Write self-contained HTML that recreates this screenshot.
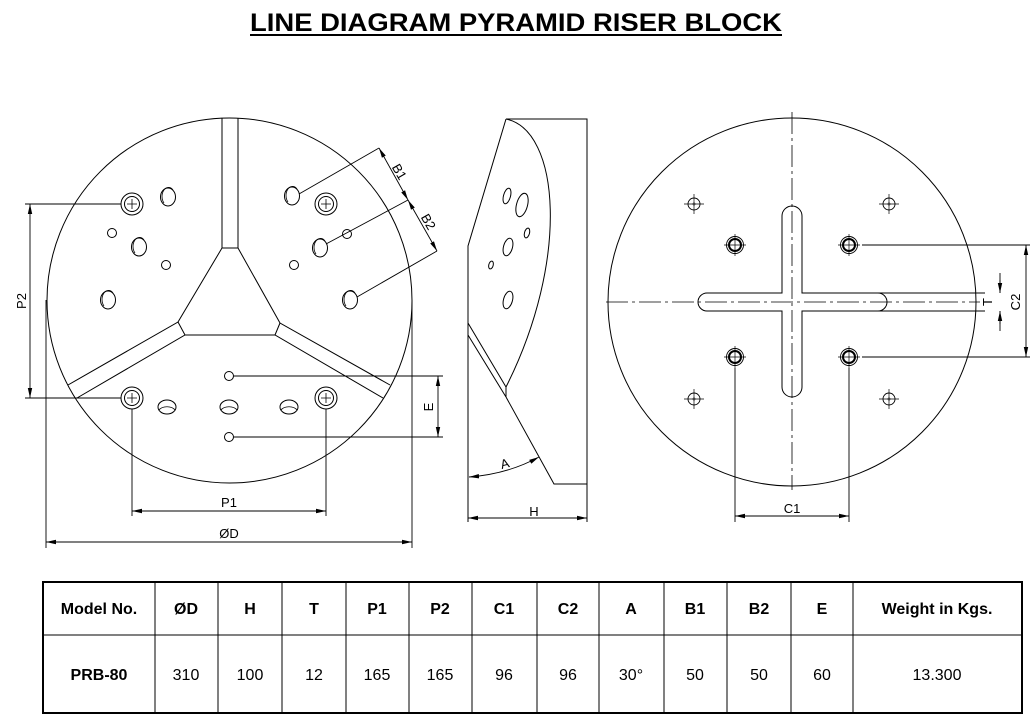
<!DOCTYPE html>
<html><head><meta charset="utf-8"><style>
body{margin:0;background:#fff;width:1033px;height:728px;overflow:hidden;font-family:"Liberation Sans",Arial,sans-serif}
svg{position:absolute;left:0;top:0}
text{font-family:"Liberation Sans",Arial,sans-serif;fill:#000}
</style></head><body>
<svg width="1033" height="728" viewBox="0 0 1033 728">
<defs>
<marker id="ar" viewBox="0 0 10 6" refX="10" refY="3" markerWidth="10" markerHeight="6" orient="auto-start-reverse" markerUnits="userSpaceOnUse"><path d="M0,0.8 L10,3 L0,5.2z" fill="#000"/></marker>
<g id="cb"><circle r="11" fill="none" stroke="#000" stroke-width="1"/><circle r="7.5" fill="none" stroke="#000" stroke-width="1"/><path d="M-5,0H5M0,-5V5" stroke="#000" stroke-width="0.8"/></g>
<g id="eh"><ellipse rx="7.5" ry="9" fill="none" stroke="#000" stroke-width="1"/><path d="M-4,6 A5,7 0 0 1 5,-7" fill="none" stroke="#000" stroke-width="0.8"/></g>
<g id="bh"><ellipse rx="9" ry="7" fill="none" stroke="#000" stroke-width="1"/><path d="M-8,3 A9,6 0 0 1 8,3" fill="none" stroke="#000" stroke-width="0.8"/></g>
<g id="pin"><circle r="6" fill="none" stroke="#000" stroke-width="0.9"/><path d="M-10,0H10M0,-10V10" stroke="#000" stroke-width="0.7"/><path d="M-2,0H2M0,-2V2" stroke="#000" stroke-width="0.9"/></g>
<g id="cb2"><circle r="8.5" fill="none" stroke="#000" stroke-width="0.9"/><circle r="6" fill="none" stroke="#000" stroke-width="2"/><path d="M-11,0H11M0,-11V11" stroke="#000" stroke-width="0.7"/></g>
</defs>

<text x="250" y="31" font-size="25" font-weight="bold" textLength="532" lengthAdjust="spacingAndGlyphs">LINE DIAGRAM PYRAMID RISER BLOCK</text>
<line x1="250" y1="35" x2="782" y2="35" stroke="#000" stroke-width="2"/>

<g fill="none" stroke="#000" stroke-width="1">
<circle cx="229.5" cy="300.5" r="182.5"/>
<path d="M222,118.5V248L178,322L68,385M77,398L185,335H275L383,398M390,385L280,323L238,248V118.5"/>
<path d="M178,322L185,335M275,335L280,323M222,248H238"/>
</g>
<use href="#cb" x="132" y="204"/><use href="#cb" x="132" y="398"/><use href="#cb" x="326" y="398"/><use href="#cb" x="326" y="204"/>
<use href="#eh" x="168" y="197"/><use href="#eh" x="139" y="247"/><use href="#eh" x="108" y="300"/>
<use href="#eh" x="292" y="196"/><use href="#eh" x="320" y="248"/><use href="#eh" x="350" y="300"/>
<use href="#bh" x="167" y="407"/><use href="#bh" x="229" y="407"/><use href="#bh" x="289" y="407"/>
<g fill="none" stroke="#000" stroke-width="1">
<circle cx="112" cy="233" r="4.5"/><circle cx="166" cy="265" r="4.5"/><circle cx="294" cy="265" r="4.5"/><circle cx="347" cy="234" r="4.5"/>
<circle cx="229" cy="376" r="4.5"/><circle cx="229" cy="437" r="4.5"/>
</g>
<g stroke="#000" stroke-width="0.9" fill="none">
<path d="M25,204H121M25,398H121"/>
<line x1="30" y1="204" x2="30" y2="398" marker-start="url(#ar)" marker-end="url(#ar)"/>
<path d="M46,300V548M412,300V548"/>
<line x1="46" y1="542" x2="412" y2="542" marker-start="url(#ar)" marker-end="url(#ar)"/>
<path d="M132,409V516M326,409V516"/>
<line x1="132" y1="511" x2="326" y2="511" marker-start="url(#ar)" marker-end="url(#ar)"/>
<path d="M234,376H443M234,437H443"/>
<line x1="438" y1="376" x2="438" y2="437" marker-start="url(#ar)" marker-end="url(#ar)"/>
<path d="M299,194L379,148M326,244L408,200M357,297L437,251"/>
<line x1="379" y1="148" x2="408" y2="200" marker-start="url(#ar)" marker-end="url(#ar)"/>
<line x1="408" y1="200" x2="437" y2="251" marker-start="url(#ar)" marker-end="url(#ar)"/>
</g>
<text x="22" y="301" font-size="13" text-anchor="middle" transform="rotate(-90 22 301)" dy="4">P2</text>
<text x="229" y="538" font-size="13" text-anchor="middle">ØD</text>
<text x="229" y="507" font-size="13" text-anchor="middle">P1</text>
<text x="429" y="407" font-size="13" text-anchor="middle" transform="rotate(-90 429 407)" dy="4">E</text>
<text x="399" y="172" font-size="13" text-anchor="middle" transform="rotate(60 399 172)" dy="4">B1</text>
<text x="428" y="222" font-size="13" text-anchor="middle" transform="rotate(60 428 222)" dy="4">B2</text>

<g fill="none" stroke="#000" stroke-width="1">
<path d="M506,119H587V484H554L506,397"/>
<path d="M506,119L468,246V522"/>
<path d="M506,119C560,130 570,260 506,387"/>
<path d="M468,323L506,387V397M468,335L506,397"/>
<ellipse cx="507" cy="196" rx="3.5" ry="8" transform="rotate(15 507 196)"/>
<ellipse cx="522" cy="205" rx="5.5" ry="12" transform="rotate(15 522 205)"/>
<ellipse cx="527" cy="233" rx="2.5" ry="5" transform="rotate(15 527 233)"/>
<ellipse cx="508" cy="247" rx="4.5" ry="9" transform="rotate(15 508 247)"/>
<ellipse cx="491" cy="265" rx="2.2" ry="4" transform="rotate(15 491 265)"/>
<ellipse cx="508" cy="300" rx="4.5" ry="9" transform="rotate(15 508 300)"/>
<path d="M587,484V522"/>
</g>
<g stroke="#000" stroke-width="0.9" fill="none">
<path d="M469,477Q508,474 539,457" marker-start="url(#ar)" marker-end="url(#ar)"/>
<line x1="468" y1="518" x2="587" y2="518" marker-start="url(#ar)" marker-end="url(#ar)"/>
</g>
<text x="506" y="468" font-size="13" text-anchor="middle" transform="rotate(-15 506 468)">A</text>
<text x="534" y="516" font-size="13" text-anchor="middle">H</text>

<g fill="none" stroke="#000" stroke-width="1">
<circle cx="792" cy="302" r="184"/>
<path d="M782,293V216A10,10 0 0 1 802,216V293H878A9,9 0 0 1 878,311H802V387A10,10 0 0 1 782,387V311H707A9,9 0 0 1 707,293Z"/>
</g>
<g stroke="#000" stroke-width="0.8" stroke-dasharray="22,4,3,4" fill="none">
<line x1="792" y1="112" x2="792" y2="490"/>
<line x1="606" y1="302" x2="980" y2="302"/>
</g>
<use href="#pin" x="694" y="204"/><use href="#pin" x="889" y="204"/><use href="#pin" x="694" y="399"/><use href="#pin" x="889" y="399"/>
<use href="#cb2" x="735" y="245"/><use href="#cb2" x="849" y="245"/><use href="#cb2" x="735" y="357"/><use href="#cb2" x="849" y="357"/>
<g stroke="#000" stroke-width="0.9" fill="none">
<path d="M862,245H1030M862,357H1030M878,293H985M878,311H985"/>
<line x1="1026" y1="245" x2="1026" y2="357" marker-start="url(#ar)" marker-end="url(#ar)"/>
<path d="M1000,273V293M1000,311V331"/>
<line x1="1000" y1="280" x2="1000" y2="293" marker-end="url(#ar)"/>
<line x1="1000" y1="324" x2="1000" y2="311" marker-end="url(#ar)"/>
<path d="M735,368V522M849,368V522"/>
<line x1="735" y1="516" x2="849" y2="516" marker-start="url(#ar)" marker-end="url(#ar)"/>
</g>
<text x="1016" y="302" font-size="13" text-anchor="middle" transform="rotate(-90 1016 302)" dy="4">C2</text>
<text x="988" y="302" font-size="13" text-anchor="middle" transform="rotate(-90 988 302)" dy="4">T</text>
<text x="792" y="513" font-size="13" text-anchor="middle">C1</text>

<g stroke="#000" fill="none">
<rect x="43" y="582" width="979" height="131" stroke-width="2"/>
<line x1="43" y1="635" x2="1022" y2="635" stroke-width="1"/>
<path d="M155,582V713M218,582V713M282,582V713M346,582V713M409,582V713M472,582V713M537,582V713M599,582V713M664,582V713M727,582V713M791,582V713M853,582V713" stroke-width="1"/>
</g>
<g font-size="16" font-weight="bold" text-anchor="middle">
<text x="99" y="614">Model No.</text><text x="186" y="614">ØD</text><text x="250" y="614">H</text><text x="314" y="614">T</text><text x="377" y="614">P1</text><text x="440" y="614">P2</text><text x="504" y="614">C1</text><text x="568" y="614">C2</text><text x="631" y="614">A</text><text x="695" y="614">B1</text><text x="759" y="614">B2</text><text x="822" y="614">E</text><text x="937" y="614">Weight in Kgs.</text>
<text x="99" y="680">PRB-80</text>
</g>
<g font-size="16" text-anchor="middle">
<text x="186" y="680">310</text><text x="250" y="680">100</text><text x="314" y="680">12</text><text x="377" y="680">165</text><text x="440" y="680">165</text><text x="504" y="680">96</text><text x="568" y="680">96</text><text x="631" y="680">30°</text><text x="695" y="680">50</text><text x="759" y="680">50</text><text x="822" y="680">60</text><text x="937" y="680">13.300</text>
</g>
</svg>
</body></html>
